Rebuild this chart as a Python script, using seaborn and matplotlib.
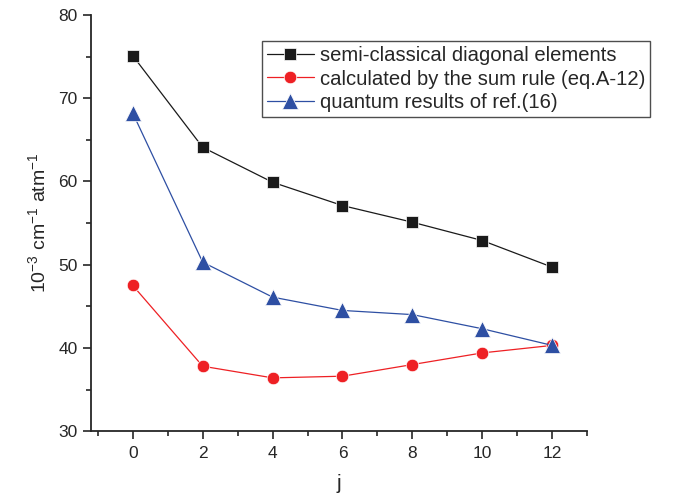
import matplotlib
matplotlib.use("Agg")
import matplotlib.pyplot as plt
import seaborn as sns
import pandas as pd
from matplotlib.ticker import MultipleLocator

j = [0, 2, 4, 6, 8, 10, 12]
semi_classical = [75.1, 64.1, 59.9, 57.1, 55.1, 52.9, 49.7]
sum_rule = [47.5, 37.8, 36.4, 36.6, 38.0, 39.4, 40.3]
quantum = [68.2, 50.3, 46.1, 44.5, 44.0, 42.3, 40.3]
labels = ["semi-classical diagonal elements",
          "calculated by the sum rule (eq.A-12)",
          "quantum results of ref.(16)"]

sns.set_style("ticks")
plt.rcParams['font.family'] = ['Liberation Sans', 'DejaVu Sans']
plt.rcParams['mathtext.fontset'] = 'custom'
plt.rcParams['mathtext.rm'] = 'Liberation Sans'

df = pd.DataFrame({"j": j * 3,
                   "value": semi_classical + sum_rule + quantum,
                   "series": [labels[0]] * 7 + [labels[1]] * 7 + [labels[2]] * 7})

fig = plt.figure(figsize=(6.78, 4.99), dpi=100)
ax = fig.add_axes([0.134, 0.136, 0.732, 0.834])

colors = {labels[0]: "#1a1a1a", labels[1]: "#ee2024", labels[2]: "#2e4fa3"}
markers = {labels[0]: "s", labels[1]: "o", labels[2]: "^"}
sns.lineplot(data=df, x="j", y="value", hue="series", style="series",
             palette=colors, markers=markers, dashes=False, ax=ax,
             linewidth=0.9, markersize=9, markeredgewidth=0.5, legend=False)

for ln in ax.lines:
    if ln.get_marker() == "^":
        ln.set_markersize(11.5)
    elif ln.get_marker() == "s":
        ln.set_markersize(8.5)

ax.set_xlim(-1.2, 13.0)
ax.set_ylim(30, 80)
ax.xaxis.set_major_locator(MultipleLocator(2))
ax.xaxis.set_minor_locator(MultipleLocator(1))
ax.yaxis.set_major_locator(MultipleLocator(10))
ax.yaxis.set_minor_locator(MultipleLocator(5))
ax.tick_params(which="major", direction="out", length=6, width=1.2, labelsize=12.5)
ax.tick_params(axis="x", which="major", pad=5)
ax.tick_params(which="minor", direction="out", length=3.5, width=1.2)
for s in ["top", "right"]:
    ax.spines[s].set_visible(False)
for s in ["left", "bottom"]:
    ax.spines[s].set_linewidth(1.3)

ax.set_xlabel("j", fontsize=15, labelpad=9)
ax.set_ylabel("10$^{-3}$ cm$^{-1}$ atm$^{-1}$", fontsize=14, labelpad=6)

handles = [ln for ln in ax.lines]
leg = ax.legend(handles, labels, loc="upper left", bbox_to_anchor=(0.345, 0.9375),
                fontsize=14.6, frameon=True, fancybox=False, edgecolor="#222222",
                handlelength=2.3, handletextpad=0.3, borderpad=0.25,
                labelspacing=0.22, borderaxespad=0)
leg.get_frame().set_linewidth(1.0)

fig.savefig("out.png", dpi=100)
